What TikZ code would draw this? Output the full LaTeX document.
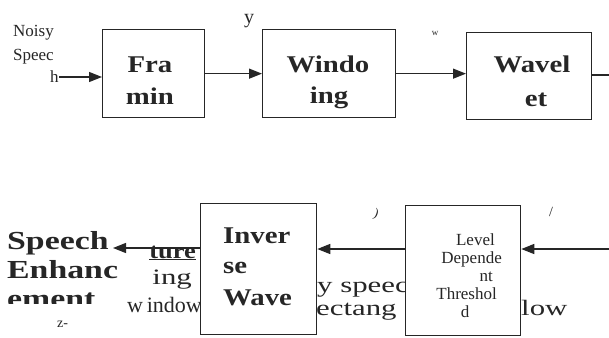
\documentclass[tikz,border=0pt]{standalone}
\usepackage{fontspec}
\setmainfont{Liberation Serif}
\newfontfamily\bxf[FakeStretch=1.2]{Liberation Serif}
\newfontfamily\spf[FakeStretch=1.3]{Liberation Serif}
\newfontfamily\frf[FakeStretch=1.4]{Liberation Serif}
\usetikzlibrary{arrows.meta}
\definecolor{ink}{HTML}{262626}
\begin{document}
\begin{tikzpicture}[x=1pt,y=-1pt,
  blk/.style={draw=ink,line width=1.3pt,fill=white,inner sep=0,anchor=north west},
  arr/.style={draw=ink,line width=1.3pt,-{Triangle[length=13pt,width=10pt]}},
  wire/.style={draw=ink,line width=1.3pt},
  big/.style={font=\bxf\bfseries\fontsize{24}{28}\selectfont,text=ink,inner sep=0,anchor=base},
  bigl/.style={big,anchor=base west},
  spt/.style={font=\spf\bfseries\fontsize{26}{30}\selectfont,text=ink,inner sep=0,anchor=base west},
  small/.style={font=\fontsize{17}{20}\selectfont,text=ink,inner sep=0,anchor=base},
  frag/.style={font=\frf\fontsize{22}{24}\selectfont,text=ink,inner sep=0},
]
\fill[white] (0,0) rectangle (609,337);
\useasboundingbox (0,0) rectangle (609,337);

% stray printed fragments (partly hidden by the boxes)
\node[frag,anchor=base west] (f1) at (317,292) {y speech};
\node[frag,anchor=base west] (f2) at (316,315) {ectang};
\node[frag,anchor=base west] (f3) at (521,315) {low};
\node[frag,font=\fontsize{22}{24}\selectfont,anchor=base east] (f4) at (202,312) {w\,indow};
\node[frag,font=\bxf\bfseries\fontsize{22}{24}\selectfont,anchor=base east] (f5) at (196,258) {\underline{ture}};
\node[frag,anchor=base east] (f6) at (192,284) {ing};
\node[frag,font=\fontsize{14}{16}\selectfont,anchor=base west] (f7) at (57,327) {z-};
\node[frag,font=\fontsize{20}{22}\selectfont,anchor=base] (ly) at (249,24) {y};
\node[frag,font=\fontsize{9}{10}\selectfont,anchor=base] (lw) at (435,36) {w};
\node[frag,font=\fontsize{13}{14}\selectfont,rotate=-20] (lj) at (376,214) {)};
\node[frag,font=\fontsize{14}{16}\selectfont] (lr) at (551,212) {/};

% blocks
\node[blk,minimum width=102,minimum height=88] (fram) at (102,29) {};
\node[blk,minimum width=133,minimum height=88] (wind) at (262,29) {};
\node[blk,minimum width=125,minimum height=87] (wav) at (466,32) {};
\node[blk,minimum width=116,minimum height=131] (inv) at (200,203) {};
\node[blk,minimum width=115,minimum height=130] (lvl) at (405,205) {};

% block texts
\node[big] (t1) at (150,72) {Fra};
\node[big] (t2) at (150,104) {min};
\node[big] (t3) at (328,72) {Windo};
\node[big] (t4) at (329,103) {ing};
\node[big] (t5) at (532,72) {Wavel};
\node[big] (t6) at (536,106) {et};
\node[bigl] (t7) at (223,243) {Inver};
\node[bigl] (t8) at (223,273) {se};
\node[bigl] (t9) at (223,305) {Wave};

\node[small,anchor=base east] (l1) at (495,245) {Level};
\node[small,anchor=base east] (l2) at (502,263) {Depende};
\node[small,anchor=base east] (l3) at (493,281) {nt};
\node[small,anchor=base east] (l4) at (497,299) {Threshol};
\node[small] (l5) at (465,317) {d};

% input / output labels
\node[small,anchor=base west] (n1) at (13,37) {Noisy};
\node[small,anchor=base west] (n2) at (13,60) {Speec};
\node[small,anchor=base west] (n3) at (50,82) {h};

\node[spt] (s1) at (7,249) {Speech};
\node[spt] (s2) at (7,278) {Enhanc};
\begin{scope}
  \clip (0,282) rectangle (125,303);
  \node[spt] (s3) at (7,307) {ement};
\end{scope}

% connectors
\coordinate (nin) at (59,77);
\draw[arr] (nin) -- (nin -| fram.west);
\draw[arr] (fram.east) -- (fram.east -| wind.west);
\draw[arr] (wind.east) -- (wind.east -| wav.west);
\coordinate (wout) at (609,75);
\draw[wire] (wav.east |- wout) -- (wout);
\coordinate (rin) at (609,249);
\draw[arr] (rin) -- (rin -| lvl.east);
\draw[arr] (lvl.west |- rin) -- (rin -| inv.east);
\coordinate (sp) at (113,248);
\draw[arr] (inv.west |- sp) -- (sp);
\end{tikzpicture}
\end{document}
